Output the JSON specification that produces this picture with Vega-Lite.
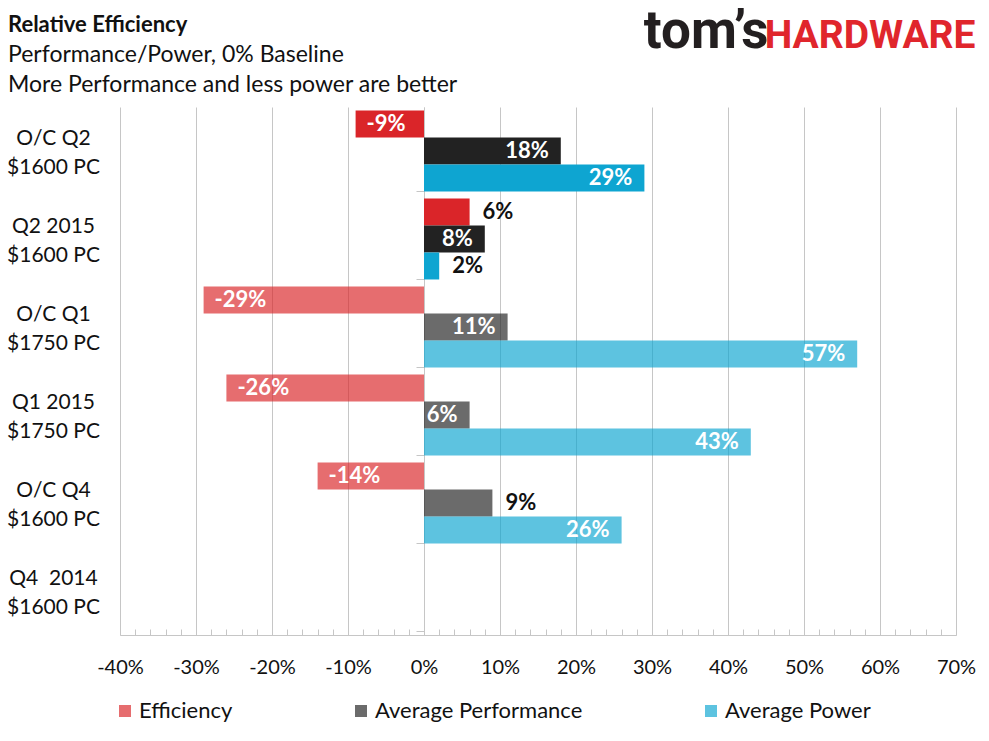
{
  "$schema": "https://vega.github.io/schema/vega-lite/v6.json",
  "description": "Relative efficiency of Tom's Hardware system builder PCs, performance/power against the Q4 2014 baseline",
  "autosize": "none",
  "width": 836,
  "height": 528,
  "padding": {"left": 120, "top": 107, "right": 33, "bottom": 106},
  "background": "white",
  "title": {
    "text": "Relative Efficiency",
    "subtitle": ["Performance/Power, 0% Baseline", "More Performance and less power are better"],
    "anchor": "start",
    "frame": "group",
    "dx": -112,
    "dy": 107,
    "offset": 14,
    "font": "Lato",
    "fontSize": 22,
    "fontWeight": "bold",
    "color": "#111111",
    "subtitleFont": "Lato",
    "subtitleFontSize": 23,
    "subtitleColor": "#111111",
    "subtitleLineHeight": 30,
    "subtitlePadding": 7
  },
  "data": {
    "values": [
      {"cat": "O/C Q2\n$1600 PC", "series": "Efficiency", "value": -9, "period": "Q2"},
      {"cat": "O/C Q2\n$1600 PC", "series": "Average Performance", "value": 18, "period": "Q2"},
      {"cat": "O/C Q2\n$1600 PC", "series": "Average Power", "value": 29, "period": "Q2"},
      {"cat": "Q2 2015\n$1600 PC", "series": "Efficiency", "value": 6, "period": "Q2"},
      {"cat": "Q2 2015\n$1600 PC", "series": "Average Performance", "value": 8, "period": "Q2"},
      {"cat": "Q2 2015\n$1600 PC", "series": "Average Power", "value": 2, "period": "Q2"},
      {"cat": "O/C Q1\n$1750 PC", "series": "Efficiency", "value": -29, "period": "Q1"},
      {"cat": "O/C Q1\n$1750 PC", "series": "Average Performance", "value": 11, "period": "Q1"},
      {"cat": "O/C Q1\n$1750 PC", "series": "Average Power", "value": 57, "period": "Q1"},
      {"cat": "Q1 2015\n$1750 PC", "series": "Efficiency", "value": -26, "period": "Q1"},
      {"cat": "Q1 2015\n$1750 PC", "series": "Average Performance", "value": 6, "period": "Q1"},
      {"cat": "Q1 2015\n$1750 PC", "series": "Average Power", "value": 43, "period": "Q1"},
      {"cat": "O/C Q4\n$1600 PC", "series": "Efficiency", "value": -14, "period": "Q4"},
      {"cat": "O/C Q4\n$1600 PC", "series": "Average Performance", "value": 9, "period": "Q4"},
      {"cat": "O/C Q4\n$1600 PC", "series": "Average Power", "value": 26, "period": "Q4"},
      {"cat": "Q4  2014\n$1600 PC", "series": "Efficiency", "value": 0, "period": "Q4"},
      {"cat": "Q4  2014\n$1600 PC", "series": "Average Performance", "value": 0, "period": "Q4"},
      {"cat": "Q4  2014\n$1600 PC", "series": "Average Power", "value": 0, "period": "Q4"}
    ]
  },
  "transform": [
    {"calculate": "datum.value + '%'", "as": "label"},
    {"calculate": "(datum.series == 'Efficiency' && indexof(datum.cat, 'Q2 2015') == 0) || (datum.series == 'Average Power' && indexof(datum.cat, 'Q2 2015') == 0) || (datum.series == 'Average Performance' && indexof(datum.cat, 'O/C Q4') == 0)", "as": "outside"}
  ],
  "encoding": {
    "y": {
      "field": "cat",
      "type": "nominal",
      "sort": null,
      "title": null
    },
    "yOffset": {
      "field": "series",
      "type": "nominal",
      "sort": ["Efficiency", "Average Performance", "Average Power"]
    },
    "x": {
      "field": "value",
      "type": "quantitative",
      "title": null
    }
  },
  "layer": [
    {
      "mark": {"type": "bar"},
      "encoding": {
        "y": {
          "field": "cat",
          "type": "nominal",
          "sort": null,
          "title": null,
          "scale": {"paddingInner": 0.08, "paddingOuter": 0.04},
          "axis": {
            "domain": false,
            "ticks": false,
            "tickSize": 0,
            "grid": false,
            "labelAlign": "center",
            "labelPadding": 67,
            "labelOffset": -12,
            "labelFont": "Lato",
            "labelFontSize": 21,
            "labelColor": "#111111",
            "labelLineHeight": 29,
            "labelLimit": 200,
            "labelExpr": "split(replace(datum.label, '  ', ' \u00a0'), '\\n')"
          }
        },
        "yOffset": {
          "field": "series",
          "type": "nominal",
          "sort": ["Efficiency", "Average Performance", "Average Power"],
          "scale": {"paddingInner": 0, "paddingOuter": 0}
        },
        "x": {
          "field": "value",
          "type": "quantitative",
          "title": null,
          "scale": {"domain": [-40, 70], "nice": false, "zero": false},
          "axis": {
            "values": [-40, -38, -36, -34, -32, -30, -28, -26, -24, -22, -20, -18, -16, -14, -12, -10, -8, -6, -4, -2, 0, 2, 4, 6, 8, 10, 12, 14, 16, 18, 20, 22, 24, 26, 28, 30, 32, 34, 36, 38, 40, 42, 44, 46, 48, 50, 52, 54, 56, 58, 60, 62, 64, 66, 68, 70],
            "grid": true,
            "gridColor": "#c6c6c6",
            "gridOpacity": {"condition": {"test": "datum.value % 10 == 0", "value": 1}, "value": 0},
            "domainColor": "#c6c6c6",
            "tickColor": "#c6c6c6",
            "tickSize": -6,
            "labelExpr": "datum.value % 10 == 0 ? datum.value + '%' : ''",
            "labelOverlap": false,
            "labelFlush": false,
            "labelBound": false,
            "labelPadding": 28,
            "labelFont": "Lato",
            "labelFontSize": 20,
            "labelColor": "#111111"
          }
        },
        "color": {
          "field": "series",
          "type": "nominal",
          "scale": {
            "domain": ["Efficiency", "Average Performance", "Average Power"],
            "range": ["#da2529", "#222222", "#0ea5d1"]
          },
          "legend": {
            "title": null,
            "orient": "none",
            "legendX": -6,
            "legendY": 593,
            "direction": "horizontal",
            "columns": 3,
            "columnPadding": 117,
            "symbolType": "square",
            "symbolSize": 144,
            "symbolOpacity": 0.67,
            "symbolStrokeWidth": 0,
            "labelFont": "Lato",
            "labelFontSize": 22,
            "labelColor": "#111111",
            "labelOffset": 3,
            "labelLimit": 300
          }
        },
        "opacity": {
          "condition": {"test": "datum.period == 'Q2'", "value": 1},
          "value": 0.67
        }
      }
    },
    {
      "transform": [{"filter": "datum.value > 0 && !datum.outside"}],
      "mark": {"type": "text", "align": "right", "dx": -12, "font": "Lato", "fontSize": 22, "fontWeight": "bold", "color": "white"},
      "encoding": {
        "text": {"field": "label"},
        "y": {"field": "cat", "type": "nominal", "sort": null, "axis": null},
        "x": {
          "field": "value",
          "type": "quantitative",
          "axis": {
            "orient": "top",
            "domain": false,
            "ticks": false,
            "labels": false,
            "grid": false,
            "title": "HARDWARE",
            "titleFont": "Roboto",
            "titleFontSize": 39,
            "titleFontWeight": "bold",
            "titleColor": "#e0262c",
            "titleAlign": "right",
            "titleBaseline": "alphabetic",
            "titleAnchor": null,
            "titleX": 855,
            "titleY": -60
          }
        }
      }
    },
    {
      "transform": [{"filter": "datum.value < 0"}],
      "mark": {"type": "text", "align": "left", "dx": 11, "font": "Lato", "fontSize": 22, "fontWeight": "bold", "color": "white"},
      "encoding": {
        "text": {"field": "label"},
        "y": {
          "field": "cat",
          "type": "nominal",
          "sort": null,
          "axis": {
            "orient": "right",
            "offset": -532,
            "domain": true,
            "domainColor": "#c6c6c6",
            "ticks": true,
            "tickBand": "extent",
            "tickSize": -8,
            "tickColor": "#c6c6c6",
            "labels": false,
            "grid": false,
            "title": "tom’s",
            "titleAngle": 0,
            "titleFont": "Roboto",
            "titleFontSize": 53,
            "titleFontWeight": "bold",
            "titleColor": "#231f20",
            "titleAlign": "right",
            "titleBaseline": "alphabetic",
            "titleAnchor": null,
            "titleX": 344,
            "titleY": -60
          }
        },
        "x": {"field": "value", "type": "quantitative", "axis": null}
      }
    },
    {
      "transform": [{"filter": "datum.outside"}],
      "mark": {"type": "text", "align": "left", "dx": 13, "font": "Lato", "fontSize": 22, "fontWeight": "bold", "color": "#111111"},
      "encoding": {
        "text": {"field": "label"},
        "y": {"field": "cat", "type": "nominal", "sort": null, "axis": null},
        "x": {"field": "value", "type": "quantitative", "axis": null}
      }
    }
  ],
  "resolve": {"axis": {"x": "independent", "y": "independent"}},
  "config": {
    "view": {"stroke": null},
    "text": {"baseline": "middle"}
  }
}
